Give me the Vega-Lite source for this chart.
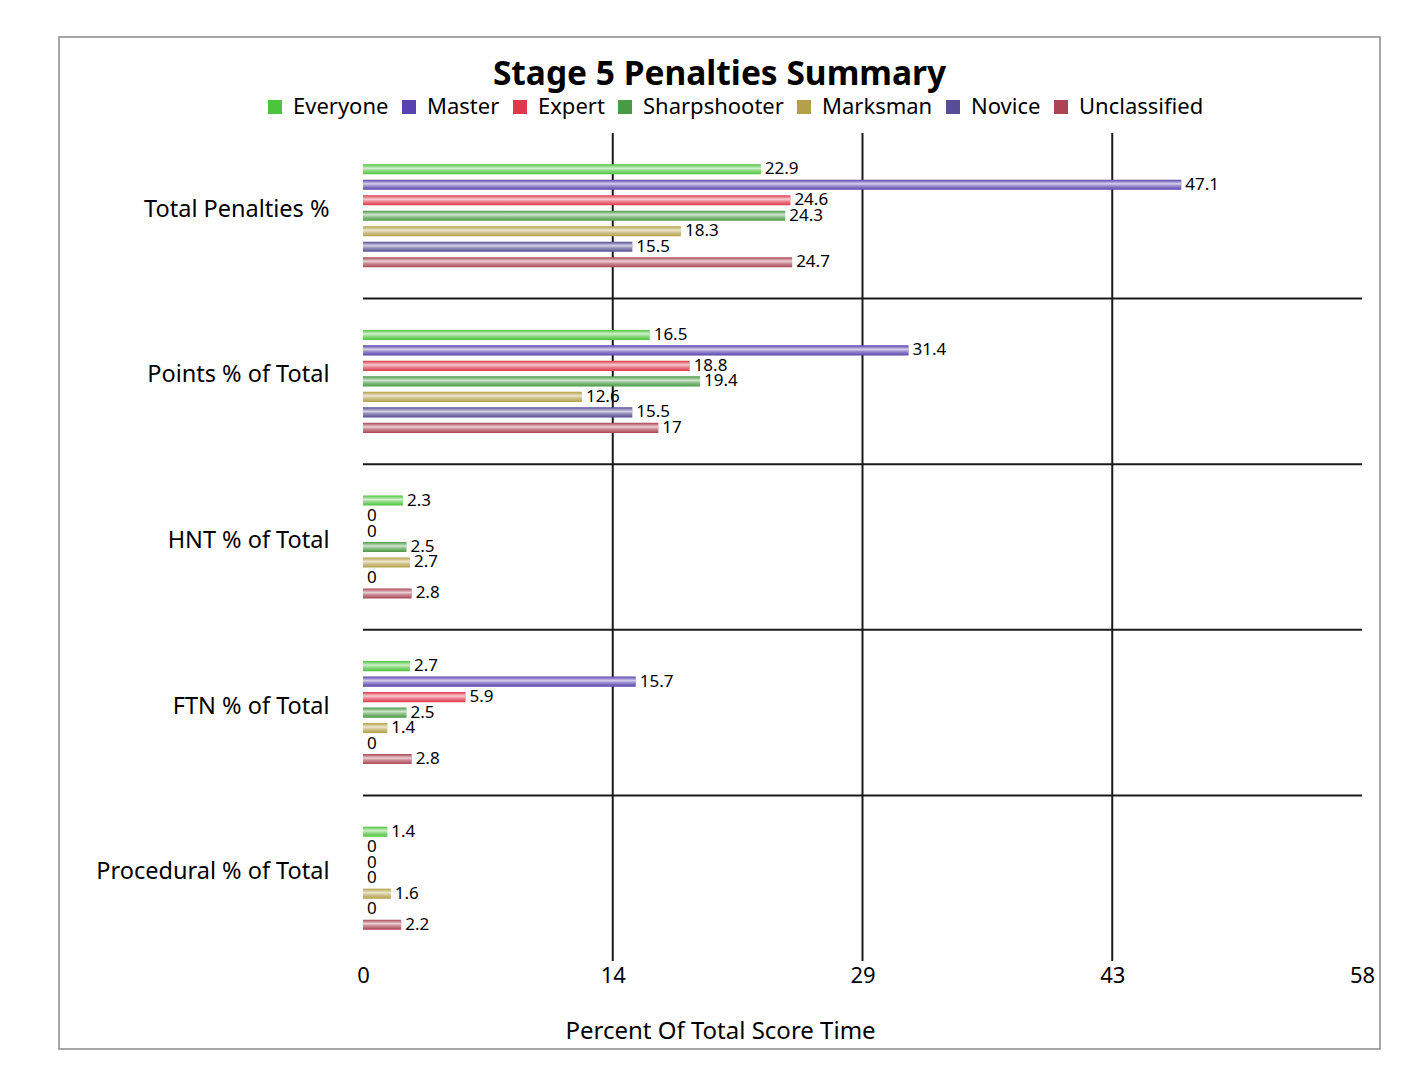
{
  "$schema": "https://vega.github.io/schema/vega-lite/v6.json",
  "width": 1321,
  "height": 1012,
  "autosize": "none",
  "padding": {"left": 59, "top": 37, "right": 24, "bottom": 18},
  "background": "white",
  "config": {
    "font": "Noto Sans",
    "view": {"stroke": "#8a8a8a", "strokeWidth": 1.5}
  },
  "title": {
    "text": "Stage 5 Penalties Summary",
    "fontSize": 33.5,
    "fontWeight": "bold",
    "color": "black",
    "anchor": "middle",
    "frame": "group",
    "baseline": "alphabetic",
    "offset": -81
  },
  "data": {
    "values": [
      {"cat": "Total Penalties %", "grp": "Everyone", "v": 22.9},
      {"cat": "Total Penalties %", "grp": "Master", "v": 47.1},
      {"cat": "Total Penalties %", "grp": "Expert", "v": 24.6},
      {"cat": "Total Penalties %", "grp": "Sharpshooter", "v": 24.3},
      {"cat": "Total Penalties %", "grp": "Marksman", "v": 18.3},
      {"cat": "Total Penalties %", "grp": "Novice", "v": 15.5},
      {"cat": "Total Penalties %", "grp": "Unclassified", "v": 24.7},
      {"cat": "Points % of Total", "grp": "Everyone", "v": 16.5},
      {"cat": "Points % of Total", "grp": "Master", "v": 31.4},
      {"cat": "Points % of Total", "grp": "Expert", "v": 18.8},
      {"cat": "Points % of Total", "grp": "Sharpshooter", "v": 19.4},
      {"cat": "Points % of Total", "grp": "Marksman", "v": 12.6},
      {"cat": "Points % of Total", "grp": "Novice", "v": 15.5},
      {"cat": "Points % of Total", "grp": "Unclassified", "v": 17},
      {"cat": "HNT % of Total", "grp": "Everyone", "v": 2.3},
      {"cat": "HNT % of Total", "grp": "Master", "v": 0},
      {"cat": "HNT % of Total", "grp": "Expert", "v": 0},
      {"cat": "HNT % of Total", "grp": "Sharpshooter", "v": 2.5},
      {"cat": "HNT % of Total", "grp": "Marksman", "v": 2.7},
      {"cat": "HNT % of Total", "grp": "Novice", "v": 0},
      {"cat": "HNT % of Total", "grp": "Unclassified", "v": 2.8},
      {"cat": "FTN % of Total", "grp": "Everyone", "v": 2.7},
      {"cat": "FTN % of Total", "grp": "Master", "v": 15.7},
      {"cat": "FTN % of Total", "grp": "Expert", "v": 5.9},
      {"cat": "FTN % of Total", "grp": "Sharpshooter", "v": 2.5},
      {"cat": "FTN % of Total", "grp": "Marksman", "v": 1.4},
      {"cat": "FTN % of Total", "grp": "Novice", "v": 0},
      {"cat": "FTN % of Total", "grp": "Unclassified", "v": 2.8},
      {"cat": "Procedural % of Total", "grp": "Everyone", "v": 1.4},
      {"cat": "Procedural % of Total", "grp": "Master", "v": 0},
      {"cat": "Procedural % of Total", "grp": "Expert", "v": 0},
      {"cat": "Procedural % of Total", "grp": "Sharpshooter", "v": 0},
      {"cat": "Procedural % of Total", "grp": "Marksman", "v": 1.6},
      {"cat": "Procedural % of Total", "grp": "Novice", "v": 0},
      {"cat": "Procedural % of Total", "grp": "Unclassified", "v": 2.2}
    ]
  },
  "layer": [
    {
      "data": {"values": [{"t": 14.375}, {"t": 28.75}, {"t": 43.125}]},
      "mark": {"type": "rule", "color": "#1a1a1a", "strokeWidth": 2},
      "encoding": {
        "x": {"field": "t", "type": "quantitative", "scale": {"domain": [0, 57.5], "range": [304, 1303], "nice": false, "zero": false}},
        "y": {"datum": 0, "type": "quantitative", "scale": {"domain": [0, 1], "range": [96, 924], "nice": false}, "axis": null},
        "y2": {"datum": 1}
      }
    },
    {
      "data": {"values": [{"cat": "Points % of Total"}, {"cat": "HNT % of Total"}, {"cat": "FTN % of Total"}, {"cat": "Procedural % of Total"}]},
      "mark": {"type": "rule", "color": "#1a1a1a", "strokeWidth": 2},
      "encoding": {
        "y": {"field": "cat", "type": "nominal", "bandPosition": 0, "axis": null,
              "scale": {"domain": ["Total Penalties %", "Points % of Total", "HNT % of Total", "FTN % of Total", "Procedural % of Total"], "range": [96, 924], "paddingInner": 0, "paddingOuter": 0}},
        "x": {"datum": 0, "type": "quantitative"},
        "x2": {"datum": 57.5}
      }
    },
    {
      "layer": [
        {
          "mark": {"type": "bar"},
          "encoding": {
            "y": {"field": "cat", "type": "nominal",
                  "scale": {"domain": ["Total Penalties %", "Points % of Total", "HNT % of Total", "FTN % of Total", "Procedural % of Total"], "range": [96, 924], "paddingInner": 0.345, "paddingOuter": 0.1725},
                  "axis": {"orient": "left", "offset": -270, "domain": false, "ticks": false, "tickSize": 0, "labelPadding": 0, "labelFontSize": 23.5, "labelColor": "black", "labelLimit": 400, "labelOffset": -6, "title": null}},
            "yOffset": {"field": "grp", "type": "nominal",
                        "scale": {"domain": ["Everyone", "Master", "Expert", "Sharpshooter", "Marksman", "Novice", "Unclassified"], "paddingInner": 0.35, "paddingOuter": 0.175}},
            "x": {"field": "v", "type": "quantitative",
                  "scale": {"domain": [0, 57.5], "range": [304, 1303], "nice": false, "zero": false},
                  "axis": {"orient": "bottom", "offset": -88, "values": [0, 14.375, 28.75, 43.125, 57.5], "format": "d", "domain": false, "ticks": false, "grid": false, "labelFlush": false, "labelFontSize": 22, "labelColor": "black", "labelPadding": 4,
                           "title": "Percent Of Total Score Time", "titleFontSize": 24, "titleFontWeight": "normal", "titleColor": "black", "titleX": 661, "titleY": 70, "titleBaseline": "middle"}},
            "color": {"field": "grp", "type": "nominal",
                      "scale": {"domain": ["Everyone", "Master", "Expert", "Sharpshooter", "Marksman", "Novice", "Unclassified"],
                                "range": ["#4cc43c", "#5844b0", "#e0384c", "#4a9a44", "#b4a048", "#564e94", "#ac4454"]},
                      "legend": {"orient": "none", "legendX": 205, "legendY": 59, "direction": "horizontal", "columns": 7, "columnPadding": 9, "title": null, "symbolType": "square", "symbolSize": 196, "symbolStrokeWidth": 0, "symbolOpacity": 1, "labelFontSize": 22, "labelColor": "black", "labelOffset": 7, "labelLimit": 300}}
          }
        },
        {
          "mark": {"type": "bar", "color": {"gradient": "linear", "x1": 0, "y1": 0, "x2": 0, "y2": 1, "stops": [{"offset": 0, "color": "rgba(255,255,255,0)"}, {"offset": 0.4, "color": "rgba(255,255,255,0.75)"}, {"offset": 0.6, "color": "rgba(255,255,255,0.4)"}, {"offset": 1, "color": "rgba(255,255,255,0)"}]}},
          "encoding": {
            "y": {"field": "cat", "type": "nominal"},
            "yOffset": {"field": "grp", "type": "nominal"},
            "x": {"field": "v", "type": "quantitative"}
          }
        },
        {
          "mark": {"type": "text", "align": "left", "baseline": "middle", "dx": 4, "fontSize": 17, "color": "black"},
          "encoding": {
            "y": {"field": "cat", "type": "nominal"},
            "yOffset": {"field": "grp", "type": "nominal"},
            "x": {"field": "v", "type": "quantitative"},
            "text": {"field": "v", "type": "quantitative"}
          }
        }
      ]
    }
  ],
  "resolve": {"scale": {"y": "independent"}}
}
